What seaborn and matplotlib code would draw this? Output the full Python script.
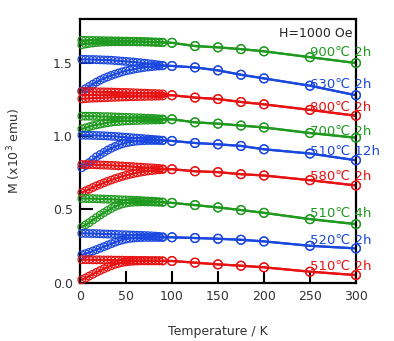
import numpy as np
import pandas as pd
import matplotlib
matplotlib.use("Agg")
import matplotlib.pyplot as plt
import seaborn as sns

# Temperatures (K): dense low-T scan and sparse high-T points
T_low = [2, 6, 10, 14, 18, 22, 26, 30, 34, 38, 42, 46, 50, 54, 58, 62, 66, 70, 74, 78, 82, 86, 90]
T_high = [100, 125, 150, 175, 200, 250, 300]

# M (x10^3 emu) for each annealing condition: ZFC / FC branches below 90 K, common values above
m900_zfc = [1.625, 1.630, 1.634, 1.637, 1.640, 1.642, 1.643, 1.644, 1.645, 1.645, 1.645, 1.645,
            1.645, 1.645, 1.645, 1.644, 1.644, 1.643, 1.643, 1.642, 1.641, 1.640, 1.639]
m900_fc = [1.655, 1.655, 1.655, 1.654, 1.654, 1.653, 1.653, 1.652, 1.652, 1.651, 1.651, 1.650,
           1.650, 1.649, 1.649, 1.648, 1.648, 1.647, 1.646, 1.645, 1.644, 1.643, 1.642]
m900_high = [1.638, 1.616, 1.607, 1.595, 1.580, 1.540, 1.500]

m630_zfc = [1.310, 1.325, 1.340, 1.355, 1.370, 1.383, 1.395, 1.405, 1.415, 1.424, 1.432, 1.440,
            1.447, 1.452, 1.457, 1.462, 1.466, 1.470, 1.473, 1.476, 1.478, 1.480, 1.481]
m630_fc = [1.525, 1.525, 1.524, 1.524, 1.523, 1.522, 1.521, 1.520, 1.519, 1.517, 1.515, 1.513,
           1.511, 1.509, 1.507, 1.504, 1.502, 1.499, 1.496, 1.493, 1.490, 1.487, 1.484]
m630_high = [1.480, 1.470, 1.450, 1.420, 1.395, 1.345, 1.280]

m800_zfc = [1.255, 1.257, 1.259, 1.260, 1.261, 1.262, 1.263, 1.264, 1.265, 1.266, 1.267, 1.268,
            1.269, 1.270, 1.270, 1.271, 1.272, 1.272, 1.273, 1.273, 1.274, 1.274, 1.275]
m800_fc = [1.305, 1.305, 1.305, 1.304, 1.304, 1.303, 1.303, 1.302, 1.302, 1.301, 1.300, 1.299,
           1.299, 1.298, 1.297, 1.296, 1.295, 1.294, 1.293, 1.292, 1.291, 1.290, 1.289]
m800_high = [1.280, 1.264, 1.254, 1.234, 1.218, 1.180, 1.140]

m700_zfc = [1.050, 1.057, 1.065, 1.072, 1.078, 1.083, 1.088, 1.092, 1.096, 1.099, 1.101, 1.103,
            1.105, 1.106, 1.107, 1.108, 1.109, 1.110, 1.110, 1.111, 1.111, 1.112, 1.112]
m700_fc = [1.137, 1.137, 1.137, 1.136, 1.136, 1.135, 1.134, 1.134, 1.133, 1.132, 1.131, 1.130,
           1.129, 1.128, 1.127, 1.126, 1.125, 1.124, 1.123, 1.122, 1.121, 1.119, 1.118]
m700_high = [1.116, 1.095, 1.086, 1.073, 1.060, 1.022, 0.990]

m510_12h_zfc = [0.785, 0.800, 0.820, 0.840, 0.860, 0.875, 0.890, 0.905, 0.918, 0.930, 0.940, 0.948,
                0.955, 0.960, 0.964, 0.967, 0.969, 0.970, 0.971, 0.971, 0.971, 0.971, 0.970]
m510_12h_fc = [1.007, 1.007, 1.006, 1.006, 1.005, 1.004, 1.003, 1.002, 1.000, 0.999, 0.997, 0.995,
               0.993, 0.991, 0.989, 0.987, 0.985, 0.983, 0.981, 0.979, 0.977, 0.975, 0.973]
m510_12h_high = [0.968, 0.954, 0.945, 0.934, 0.911, 0.882, 0.836]

m580_zfc = [0.615, 0.627, 0.638, 0.650, 0.662, 0.672, 0.682, 0.692, 0.701, 0.710, 0.718, 0.726,
            0.733, 0.739, 0.745, 0.750, 0.755, 0.759, 0.763, 0.766, 0.769, 0.771, 0.773]
m580_fc = [0.807, 0.807, 0.806, 0.806, 0.805, 0.804, 0.803, 0.802, 0.801, 0.800, 0.798, 0.797,
           0.795, 0.794, 0.792, 0.790, 0.789, 0.787, 0.785, 0.784, 0.782, 0.780, 0.778]
m580_high = [0.775, 0.761, 0.755, 0.741, 0.732, 0.700, 0.664]

m510_4h_zfc = [0.380, 0.395, 0.410, 0.428, 0.445, 0.462, 0.478, 0.493, 0.507, 0.520, 0.530, 0.538,
               0.544, 0.548, 0.550, 0.551, 0.552, 0.552, 0.551, 0.551, 0.550, 0.549, 0.548]
m510_4h_fc = [0.575, 0.575, 0.574, 0.574, 0.573, 0.572, 0.571, 0.570, 0.569, 0.568, 0.567, 0.566,
              0.565, 0.564, 0.563, 0.562, 0.561, 0.559, 0.558, 0.557, 0.555, 0.553, 0.551]
m510_4h_high = [0.545, 0.530, 0.514, 0.496, 0.477, 0.434, 0.400]

m520_zfc = [0.190, 0.198, 0.207, 0.216, 0.226, 0.236, 0.246, 0.256, 0.266, 0.276, 0.285, 0.292,
            0.298, 0.302, 0.305, 0.307, 0.308, 0.309, 0.309, 0.309, 0.309, 0.309, 0.308]
m520_fc = [0.337, 0.337, 0.336, 0.336, 0.335, 0.334, 0.333, 0.332, 0.331, 0.330, 0.329, 0.328,
           0.327, 0.326, 0.325, 0.324, 0.323, 0.322, 0.321, 0.320, 0.318, 0.316, 0.314]
m520_high = [0.310, 0.305, 0.300, 0.293, 0.282, 0.252, 0.234]

m510_2h_zfc = [0.020, 0.032, 0.045, 0.058, 0.071, 0.083, 0.095, 0.106, 0.116, 0.125, 0.132, 0.138,
               0.142, 0.145, 0.147, 0.148, 0.149, 0.149, 0.149, 0.149, 0.149, 0.149, 0.148]
m510_2h_fc = [0.157, 0.157, 0.157, 0.156, 0.156, 0.156, 0.155, 0.155, 0.155, 0.154, 0.154, 0.154,
              0.153, 0.153, 0.153, 0.152, 0.152, 0.152, 0.151, 0.151, 0.151, 0.150, 0.150]
m510_2h_high = [0.148, 0.137, 0.125, 0.116, 0.105, 0.075, 0.052]

labels = ["900℃ 2h", "630℃ 2h", "800℃ 2h", "700℃ 2h", "510℃ 12h",
          "580℃ 2h", "510℃ 4h", "520℃ 2h", "510℃ 2h"]
label_y = [1.575, 1.352, 1.200, 1.034, 0.893, 0.723, 0.473, 0.291, 0.114]

GREEN, BLUE, RED = "#1f9a1f", "#1a47e0", "#e81212"
colors = [GREEN, BLUE, RED, GREEN, BLUE, RED, GREEN, BLUE, RED]

curves = [
    (m900_zfc, m900_fc, m900_high),
    (m630_zfc, m630_fc, m630_high),
    (m800_zfc, m800_fc, m800_high),
    (m700_zfc, m700_fc, m700_high),
    (m510_12h_zfc, m510_12h_fc, m510_12h_high),
    (m580_zfc, m580_fc, m580_high),
    (m510_4h_zfc, m510_4h_fc, m510_4h_high),
    (m520_zfc, m520_fc, m520_high),
    (m510_2h_zfc, m510_2h_fc, m510_2h_high),
]

rows = []
for lab, (zfc, fc, high) in zip(labels, curves):
    for branch, low in (("ZFC", zfc), ("FC", fc)):
        for t, m in zip(T_low + T_high, low + high):
            rows.append({"sample": lab, "branch": branch, "T": t, "M": m,
                         "dense": t <= 90})
df = pd.DataFrame(rows)

sns.set_style("white")
plt.rcParams["font.family"] = ["DejaVu Sans"]

fig = plt.figure(figsize=(3.94, 3.41), dpi=100)
ax = fig.add_axes([0.203, 0.171, 0.7005, 0.773])

for lab, col in zip(labels, colors):
    for branch in ("ZFC", "FC"):
        sub = df[(df["sample"] == lab) & (df["branch"] == branch)]
        sns.lineplot(data=sub, x="T", y="M", ax=ax, color=col, lw=1.6,
                     sort=False, estimator=None, legend=False)
        dense = sub[sub["dense"]]
        sparse = sub[~sub["dense"]]
        sns.scatterplot(data=dense, x="T", y="M", ax=ax, marker="o", s=30,
                        facecolors="none", edgecolor=col, linewidth=0.9,
                        legend=False, clip_on=False, zorder=3)
        sns.scatterplot(data=sparse, x="T", y="M", ax=ax, marker="o", s=40,
                        facecolors="none", edgecolor=col, linewidth=0.9,
                        legend=False, clip_on=False, zorder=3)

for lab, y, col in zip(labels, label_y, colors):
    ax.text(250, y, lab, color=col, fontsize=9.5, ha="left", va="center",
            clip_on=False, zorder=5)

ax.text(296, 1.70, "H=1000 Oe", color="#222222", fontsize=9, ha="right", va="center")

ax.set_xlim(0, 300)
ax.set_ylim(0, 1.8)
ax.set_xticks([0, 50, 100, 150, 200, 250, 300])
ax.set_yticks([0.0, 0.5, 1.0, 1.5])
ax.set_yticklabels(["0.0", "0.5", "1.0", "1.5"])
ax.tick_params(direction="in", length=9, width=1.5, labelsize=9,
               labelcolor="#333333", color="black", pad=5,
               bottom=True, left=True, top=False, right=False)
for sp in ax.spines.values():
    sp.set_color("black")
    sp.set_linewidth(1.6)

ax.set_xlabel("Temperature / K", fontsize=9, color="#333333")
ax.xaxis.set_label_coords(0.5, -0.162)
ax.set_ylabel("M (x10$^3$ emu)", fontsize=9, color="#333333")
ax.yaxis.set_label_coords(-0.205, 0.5)

fig.savefig("out.png", dpi=100)
